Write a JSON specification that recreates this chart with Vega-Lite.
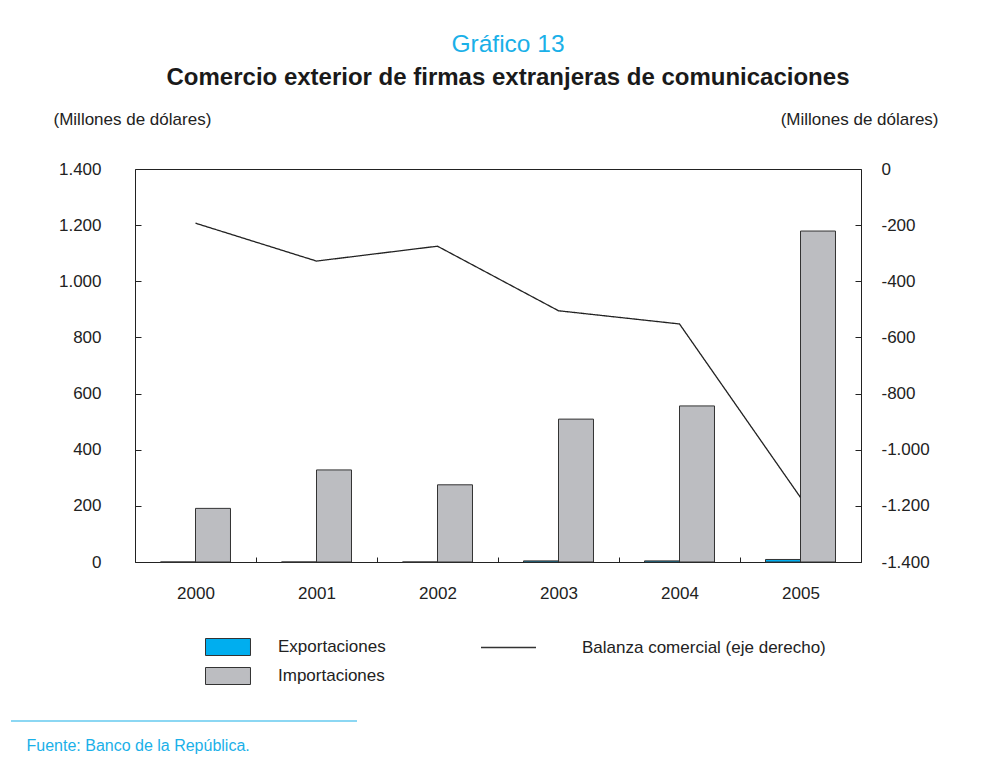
{
  "$schema": "https://vega.github.io/schema/vega-lite/v6.json",
  "autosize": {"type": "none"},
  "width": 726,
  "height": 393,
  "padding": {"left": 135, "top": 169, "right": 128, "bottom": 212},
  "background": "white",
  "config": {
    "locale": {"number": {"decimal": ",", "thousands": ".", "grouping": [3], "currency": ["$", ""], "minus": "-"}},
    "font": "Liberation Sans",
    "view": {"stroke": "#222", "strokeWidth": 1},
    "axis": {
      "grid": false,
      "domain": false,
      "labelFont": "Liberation Sans",
      "labelFontSize": 17,
      "labelColor": "#222",
      "tickColor": "#222",
      "titleFont": "Liberation Sans",
      "titleFontSize": 17,
      "titleFontWeight": "normal",
      "titleColor": "#222"
    },
    "legend": {"labelFont": "Liberation Sans", "labelFontSize": 17, "labelColor": "#222", "padding": 0, "labelLimit": 0}
  },
  "title": {
    "text": "Gráfico 13",
    "subtitle": "Comercio exterior de firmas extranjeras de comunicaciones",
    "anchor": "middle",
    "frame": "group",
    "dx": 10,
    "fontSize": 24.5,
    "fontWeight": "normal",
    "color": "#1ab0e8",
    "subtitleFontSize": 24,
    "subtitleFontWeight": "bold",
    "subtitleColor": "#1a1a1a",
    "subtitlePadding": 9,
    "offset": 19
  },
  "datasets": {
    "barras": [
      {"anio": "2000", "serie": "Exportaciones", "valor": 0},
      {"anio": "2000", "serie": "Importaciones", "valor": 191},
      {"anio": "2001", "serie": "Exportaciones", "valor": 0},
      {"anio": "2001", "serie": "Importaciones", "valor": 328},
      {"anio": "2002", "serie": "Exportaciones", "valor": 0},
      {"anio": "2002", "serie": "Importaciones", "valor": 275},
      {"anio": "2003", "serie": "Exportaciones", "valor": 4},
      {"anio": "2003", "serie": "Importaciones", "valor": 509},
      {"anio": "2004", "serie": "Exportaciones", "valor": 4},
      {"anio": "2004", "serie": "Importaciones", "valor": 556},
      {"anio": "2005", "serie": "Exportaciones", "valor": 9},
      {"anio": "2005", "serie": "Importaciones", "valor": 1179}
    ],
    "balanza": [
      {"anio": "2000", "balanza": -193},
      {"anio": "2001", "balanza": -328},
      {"anio": "2002", "balanza": -275},
      {"anio": "2003", "balanza": -505},
      {"anio": "2004", "balanza": -552},
      {"anio": "2005", "balanza": -1170}
    ]
  },
  "layer": [
    {
      "data": {"name": "barras"},
      "mark": {"type": "bar", "strokeWidth": 1},
      "encoding": {
        "x": {
          "field": "anio",
          "type": "nominal",
          "scale": {"paddingInner": 0, "paddingOuter": 0},
          "axis": {
            "labelAngle": 0,
            "tickBand": "extent",
            "tickSize": -5,
            "labelPadding": 28,
            "title": "Fuente: Banco de la República.",
            "titleX": -109,
            "titleY": 183,
            "titleAlign": "left",
            "titleBaseline": "middle",
            "titleColor": "#1ab0e8",
            "titleFontSize": 16
          }
        },
        "xOffset": {
          "field": "serie",
          "type": "nominal",
          "sort": ["Exportaciones", "Importaciones"],
          "scale": {"paddingInner": 0, "paddingOuter": 0.7286}
        },
        "y": {
          "field": "valor",
          "type": "quantitative",
          "scale": {"domain": [0, 1400], "nice": false},
          "axis": {
            "orient": "left",
            "values": [0, 200, 400, 600, 800, 1000, 1200, 1400],
            "format": ",d",
            "tickSize": -6,
            "labelPadding": 40,
            "title": "(Millones de dólares)",
            "titleAngle": 0,
            "titleAlign": "left",
            "titleBaseline": "middle",
            "titleX": -82,
            "titleY": -50
          }
        },
        "fill": {
          "field": "serie",
          "type": "nominal",
          "scale": {"domain": ["Exportaciones", "Importaciones"], "range": ["#00aeef", "#bcbdc1"]},
          "legend": {
            "orient": "none",
            "legendX": 84,
            "legendY": 469,
            "title": null,
            "symbolType": "M-2.647,-1H2.647V1H-2.647Z",
            "symbolSize": 289,
            "symbolStrokeColor": "#333",
            "symbolStrokeWidth": 1,
            "labelOffset": 41,
            "rowPadding": 7,
            "labelBaseline": "middle"
          }
        },
        "stroke": {
          "field": "valor",
          "type": "quantitative",
          "scale": {"range": ["#333333", "#333333"]},
          "legend": {
            "orient": "none",
            "direction": "horizontal",
            "legendX": -124,
            "legendY": 552,
            "title": null,
            "labelExpr": "''",
            "labelOpacity": 0,
            "gradientLength": 346,
            "gradientThickness": 0,
            "gradientStrokeColor": "#1ab0e8",
            "gradientStrokeWidth": 1.2
          }
        }
      }
    },
    {
      "data": {"name": "balanza"},
      "mark": {"type": "line", "stroke": "#222", "strokeWidth": 1.3},
      "encoding": {
        "x": {"field": "anio", "type": "nominal"},
        "y": {
          "field": "balanza",
          "type": "quantitative",
          "scale": {"domain": [-1400, 0], "nice": false},
          "axis": {
            "orient": "right",
            "values": [-1400, -1200, -1000, -800, -600, -400, -200, 0],
            "format": ",d",
            "tickSize": -6,
            "labelPadding": 26,
            "title": "(Millones de dólares)",
            "titleAngle": 0,
            "titleAlign": "right",
            "titleBaseline": "middle",
            "titleX": 77,
            "titleY": -50
          }
        },
        "strokeDash": {
          "datum": "Balanza comercial (eje derecho)",
          "type": "nominal",
          "scale": {"range": [[1, 0]]},
          "legend": {
            "orient": "none",
            "legendX": 364,
            "legendY": 469,
            "title": null,
            "symbolType": "M-3.235,0H3.235",
            "symbolSize": 289,
            "symbolStrokeColor": "#333",
            "symbolStrokeWidth": 1.3,
            "labelOffset": 64,
            "labelBaseline": "middle"
          }
        }
      }
    }
  ],
  "resolve": {"scale": {"y": "independent"}}
}
